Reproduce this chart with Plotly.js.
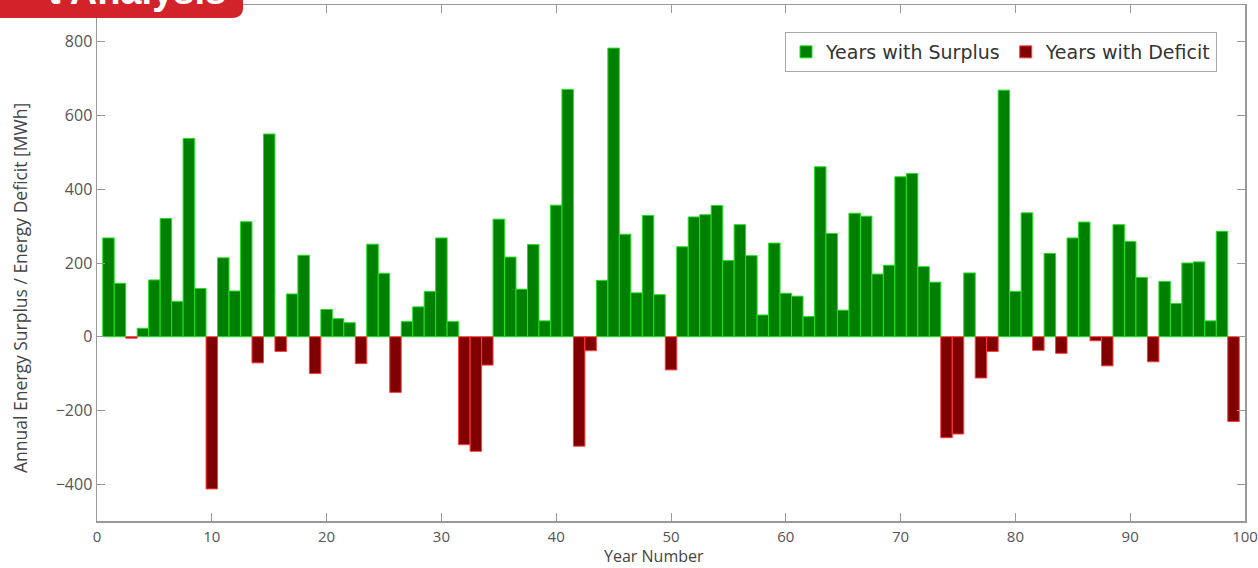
<!DOCTYPE html>
<html>
<head>
<meta charset="utf-8">
<script src="https://cdn.plot.ly/plotly-3.0.1.min.js"></script>
<style>html,body{margin:0;padding:0;background:#fff;}#chart{width:1258px;height:568px;}</style>
</head>
<body>
<div id="chart"></div>
<script>
const years = [];
for (let i = 1; i <= 99; i++) years.push(i);
const energy = [
  268, 145, -4, 23, 154, 321, 96, 538, 131, -413,
  214, 124, 312, -71, 550, -40, 116, 221, -100, 74,
  49, 38, -73, 251, 172, -151, 41, 81, 123, 268,
  41, -293, -311, -77, 319, 216, 129, 250, 43, 357,
  671, -297, -38, 153, 783, 278, 119, 329, 114, -90,
  244, 325, 331, 356, 207, 304, 220, 59, 254, 118,
  110, 55, 461, 280, 72, 335, 327, 170, 194, 434,
  443, 190, 148, -274, -264, 173, -112, -40, 669, 123,
  336, -37, 226, -45, 268, 311, -11, -79, 304, 258,
  161, -68, 150, 90, 200, 203, 43, 286, -230
];
const seriesNames = ['Years with Surplus', 'Years with Deficit'];
const yTicks = [-400, -200, 0, 200, 400, 600, 800];
const xTicks = [0, 10, 20, 30, 40, 50, 60, 70, 80, 90, 100];
const xTitle = 'Year Number';
const yTitle = 'Annual Energy Surplus / Energy Deficit [MWh]';
const bannerText = 't Analysis';

const surX = [], surY = [], defX = [], defY = [];
years.forEach((yr, i) => {
  if (energy[i] >= 0) { surX.push(yr); surY.push(energy[i]); }
  else { defX.push(yr); defY.push(energy[i]); }
});

const FONT = 'Open Sans, DejaVu Sans, sans-serif';
const WIDE = 'DejaVu Sans, sans-serif';
const axisColor = '#999999';

const traces = [
  {type: 'bar', name: seriesNames[0], x: surX, y: surY, width: 1,
   marker: {color: '#008000', line: {color: '#22e022', width: 1}}},
  {type: 'bar', name: seriesNames[1], x: defX, y: defY, width: 1,
   marker: {color: '#800000', line: {color: '#ff3b3b', width: 1}}}
];

const L = 97, R = 13, T = 5, B = 47, W = 1258, H = 568;
const pw = W - L - R, ph = H - T - B;
const px = v => (v - L) / pw;
const py = v => 1 - (v - T) / ph;

const layout = {
  width: W, height: H,
  margin: {l: L, r: R, t: T, b: B},
  paper_bgcolor: '#fff', plot_bgcolor: '#fff',
  barmode: 'relative', bargap: 0,
  font: {family: FONT, color: '#444', size: 15},
  showlegend: true,
  legend: {
    orientation: 'h', x: px(1217), xanchor: 'right', y: py(32), yanchor: 'top',
    bgcolor: '#fff', bordercolor: '#aaa', borderwidth: 1,
    font: {family: WIDE, size: 19, color: '#333'},
    traceorder: 'normal', itemwidth: 30, tracegroupgap: 0
  },
  xaxis: {
    range: [0, 100], tickvals: xTicks, ticks: 'inside', ticklen: 8,
    tickcolor: axisColor, showline: true, linecolor: axisColor, linewidth: 1.5,
    mirror: 'ticks', showgrid: false, zeroline: false, ticklabelstandoff: 1,
    ticklabeloverflow: 'allow',
    tickfont: {family: FONT, size: 15, color: '#555'}
  },
  yaxis: {
    range: [-500, 900], tickvals: yTicks, ticks: 'inside', ticklen: 8,
    tickcolor: axisColor, showline: true, linecolor: axisColor, linewidth: 1.5,
    mirror: 'ticks', showgrid: false, zeroline: false,
    tickfont: {family: FONT, size: 16, color: '#555'}
  },
  shapes: [{
    type: 'path', xref: 'paper', yref: 'paper', layer: 'above',
    path: 'M ' + px(-5) + ' ' + py(-5) + ' L ' + px(243) + ' ' + py(-5) +
          ' L ' + px(243) + ' ' + py(8) + ' Q ' + px(243) + ' ' + py(18) + ' ' + px(231) + ' ' + py(18) +
          ' L ' + px(-5) + ' ' + py(18) + ' Z',
    fillcolor: '#d2232a', line: {width: 0}
  }],
  annotations: [
    {xref: 'paper', yref: 'paper', x: px(228), y: py(14), xanchor: 'right', yanchor: 'bottom',
     text: '<b>' + bannerText + '</b>', showarrow: false,
     font: {family: 'Liberation Sans, Arial, sans-serif', size: 38, color: '#fff'}},
    {xref: 'paper', yref: 'paper', x: px(654), y: py(568), xanchor: 'center', yanchor: 'bottom',
     borderpad: 0, text: xTitle, showarrow: false, font: {family: FONT, size: 16, color: '#444'}},
    {xref: 'paper', yref: 'paper', x: px(20), y: py(288), xanchor: 'center', yanchor: 'middle',
     textangle: -90, text: yTitle, showarrow: false, font: {family: FONT, size: 17.5, color: '#444'}}
  ]
};

Plotly.newPlot('chart', traces, layout, {displayModeBar: false, staticPlot: true});
</script>
</body>
</html>
